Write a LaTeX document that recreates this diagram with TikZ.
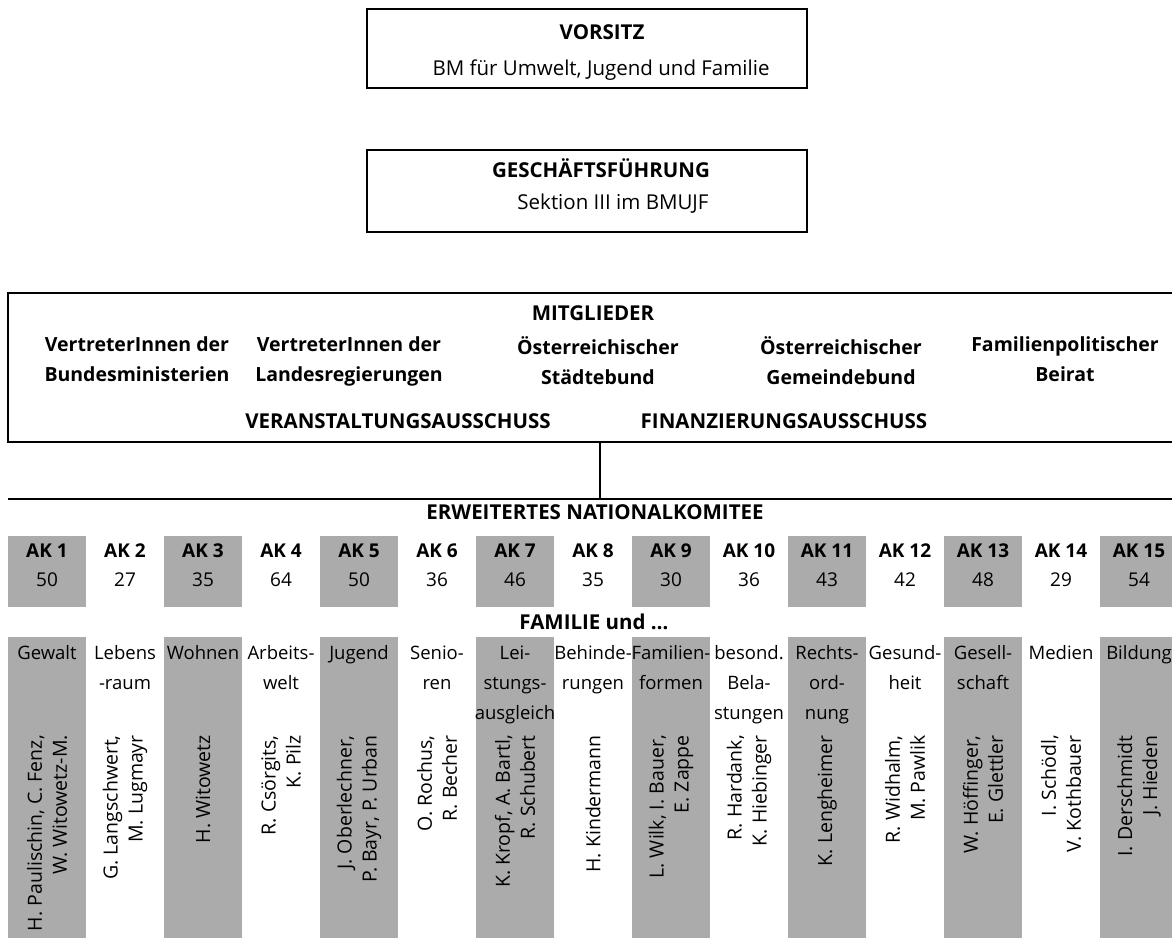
\documentclass[tikz,border=0pt]{standalone}
\usepackage{fontspec}
\setmainfont{Open Sans}
\begin{document}
\begin{tikzpicture}[x=1pt,y=-1pt,
  txt/.style={inner sep=0pt, anchor=base, font=\fontsize{20.5}{24}\selectfont},
  bold/.style={inner sep=0pt, anchor=base, font=\fontsize{20.5}{24}\selectfont\bfseries},
  mem/.style={inner sep=0pt, align=center, anchor=north, font=\fontsize{19.5}{30}\selectfont\bfseries, execute at begin node={\rule{0pt}{15pt}}},
  akl/.style={inner sep=0pt, anchor=base, font=\fontsize{19}{22}\selectfont\bfseries},
  akn/.style={inner sep=0pt, anchor=base, font=\fontsize{19}{22}\selectfont},
  frame/.style={draw, line width=1.3pt, inner sep=0pt},
  shadefill/.style={fill=black!33},
  cat/.style={inner sep=0pt, align=center, anchor=north, font=\fontsize{18.5}{30}\selectfont, execute at begin node={\rule{0pt}{14pt}}},
  names/.style={inner sep=0pt, align=right, rotate=90, anchor=east, font=\fontsize{19.5}{25}\selectfont},
  conn/.style={line width=1.3pt}
]
\useasboundingbox (0,0) rectangle (1172,938);

% top boxes
\node[frame, minimum width=440pt, minimum height=79pt] (vorsitz) at (587,48.5) {};
\node[bold] (vt) at (602,39.3) {VORSITZ};
\node[txt] (vs) at (601,75.3) {BM für Umwelt, Jugend und Familie};
\node[frame, minimum width=440pt, minimum height=82pt] (gf) at (587,191) {};
\node[bold] (gt) at (601,177.3) {GESCHÄFTSFÜHRUNG};
\node[txt] (gs) at (613,209.3) {Sektion III im BMUJF};

% Mitglieder box (open to the right edge)
\draw[conn] (1172,293) -- (8,293) -- (8,442) -- (1172,442);
\node[bold] (mitgl) at (593,320.3) {MITGLIEDER};
\node[mem] (m1) at (137,336) {VertreterInnen der\\Bundesministerien};
\node[mem] (m2) at (349,336) {VertreterInnen der\\Landesregierungen};
\node[mem] (m3) at (598,336) {Österreichischer\\Städtebund};
\node[mem] (m4) at (841,336) {Österreichischer\\Gemeindebund};
\node[mem] (m5) at (1065,336) {Familienpolitischer\\Beirat};
\node[bold] (va) at (398,428.3) {VERANSTALTUNGSAUSSCHUSS};
\node[bold] (fa) at (784,428.3) {FINANZIERUNGSAUSSCHUSS};

% connector
\coordinate (mb) at (600,442);
\coordinate (ek) at (600,499);
\draw[conn] (mb) -- (ek);
\draw[conn] (8,499) -- (1172,499);

\node[bold] (erw) at (595,519.3) {ERWEITERTES NATIONALKOMITEE};
\node[bold] (fam) at (594,629.3) {FAMILIE und \dots};

% columns
\foreach \i/\num/\cat/\nm in {
  1/50/{Gewalt}/{H. Paulischin, C. Fenz,\\W. Witowetz-M.},
  2/27/{Lebens\\-raum}/{G. Langschwert,\\M. Lugmayr},
  3/35/{Wohnen}/{H. Witowetz},
  4/64/{Arbeits-\\welt}/{R. Csörgits,\\K. Pilz},
  5/50/{Jugend}/{J. Oberlechner,\\P. Bayr, P. Urban},
  6/36/{Senio-\\ren}/{O. Rochus,\\R. Becher},
  7/46/{Lei-\\stungs-\\ausgleich}/{K. Kropf, A. Bartl,\\R. Schubert},
  8/35/{Behinde-\\rungen}/{H. Kindermann},
  9/30/{Familien-\\formen}/{L. Wilk, I. Bauer,\\E. Zappe},
  10/36/{besond.\\Bela-\\stungen}/{R. Hardank,\\K. Hiebinger},
  11/43/{Rechts-\\ord-\\nung}/{K. Lengheimer},
  12/42/{Gesund-\\heit}/{R. Widhalm,\\M. Pawlik},
  13/48/{Gesell-\\schaft}/{W. Höffinger,\\E. Glettler},
  14/29/{Medien}/{I. Schödl,\\V. Kothbauer},
  15/54/{Bildung}/{I. Derschmidt\\J. Hieden}} {
  \pgfmathsetmacro{\xl}{8+78*(\i-1)}
  \pgfmathsetmacro{\xr}{min(\xl+78,1172)}
  \pgfmathsetmacro{\cx}{\xl+39}
  \pgfmathparse{isodd(\i)}
  \ifnum\pgfmathresult=1
    \fill[shadefill] (\xl,536) rectangle (\xr,607);
    \fill[shadefill] (\xl,637) rectangle (\xr,938);
  \fi
  \node[akl] (ak\i) at (\cx,557) {AK \i};
  \node[akn] (n\i) at (\cx,586) {\num};
  \node[cat] (c\i) at (\cx,645.5) {\cat};
  \node[names] (p\i) at (\cx,735) {\nm};
}
\end{tikzpicture}
\end{document}
